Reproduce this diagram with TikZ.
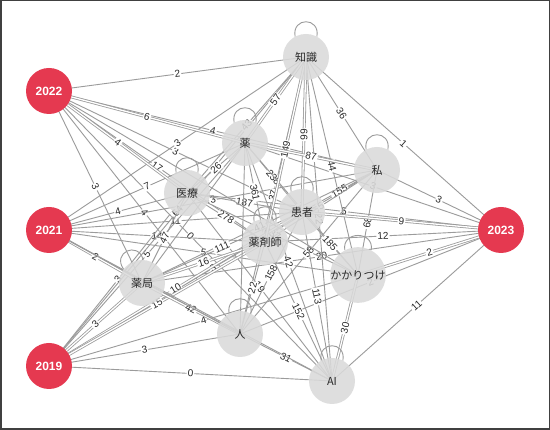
\documentclass[tikz,border=0pt]{standalone}
\usepackage{fontspec}
\setmainfont{Liberation Sans}
\newfontfamily\jpfont{Noto Sans CJK JP}
\usetikzlibrary{backgrounds}
\definecolor{yearred}{RGB}{229,57,80}
\definecolor{wordgray}{RGB}{218,218,218}
\definecolor{edgegray}{RGB}{155,155,155}
\definecolor{txtgray}{RGB}{40,40,40}
\tikzset{
  yearnode/.style={circle, fill=yearred, minimum size=46pt, inner sep=0pt, text=white, font=\bfseries\fontsize{12}{12}\selectfont},
  wordnode/.style={circle, fill=wordgray, fill opacity=0.88, text opacity=1, minimum size=46pt, inner sep=0pt, text=txtgray, font=\jpfont\fontsize{11}{11}\selectfont},
  link/.style={draw=edgegray, line width=0.9pt},
  dbl/.style={draw=edgegray, double=white, double distance=1.3pt, line width=0.8pt},
  lab/.style={fill=white, inner sep=1pt, sloped, font=\fontsize{10}{10}\selectfont, text=txtgray},
  selfloop/.style={draw=edgegray, line width=0.9pt},
}
\begin{document}
\begin{tikzpicture}[x=1pt,y=-1pt]
\useasboundingbox (0,0) rectangle (550,430);
% nodes
\node[yearnode] (Y22) at (49,91) {2022};
\node[yearnode] (Y21) at (49,230) {2021};
\node[yearnode] (Y19) at (49,366) {2019};
\node[yearnode] (Y23) at (501,230) {2023};
\node[wordnode] (K)  at (306,57)  {知識};
\node[wordnode] (Ku) at (245,143) {薬};
\node[wordnode] (W)  at (377,170) {私};
\node[wordnode] (I)  at (187,193) {医療};
\node[wordnode] (P)  at (302,212) {患者};
\node[wordnode] (Ph) at (265,242) {薬剤師};
\node[wordnode] (Ka) at (358,275) {かかりつけ};
\node[wordnode] (Y)  at (142,283) {薬局};
\node[wordnode] (H)  at (240,334) {人};
\node[wordnode] (A)  at (332,381) {AI};
\begin{scope}[on background layer]
  \draw[fill=white, draw=black!75, line width=1.5pt] (0.75,0.75) rectangle (549.25,429.25);
  % single labelled edges
  \foreach \a/\b/\l in {Y22/K/2, Y22/W/4, Y22/P/3, Y22/Ph/17, Y22/Y/3, Y22/H/4, Y22/A/0,
      Y21/K/3, Y21/Ku/7, Y21/I/4, Y21/W/3, Y21/P/11, Y21/Ph/14, Y21/Ka/5,
      Y19/I/3, Y19/Ku/5, Y19/W/3, Y19/Ka/4, Y19/H/3, Y19/A/0, Y19/K/64,
      Y23/K/1, Y23/W/3, Y23/I/5, Y23/Ph/12, Y23/A/11, Y23/Ku/3, Y23/H/2, Y23/Y/20,
      K/W/36, K/Ka/44, K/H/37, K/I/43, K/A/22,
      Ku/I/26, Ku/P/238, Ku/Ph/361, Ku/A/42, Ku/Ka/75,
      I/P/187, I/Ph/278, I/Y/47, I/A/19, I/Ka/637,
      W/P/155, W/Ph/5, W/Ka/68, W/H/58, W/Y/41,
      P/Ka/185, P/A/113, P/H/158, P/Y/111,
      Ph/A/152, Ph/H/22, H/A/31}
    {\draw[link] (\a.center) -- node[lab] {\l} (\b.center);}
  % double labelled edges
  \foreach \a/\b/\l in {Y22/Ku/6, Y22/I/4, Y21/Y/2, Y19/Y/3, Y19/P/10, Y19/Ph/15,
      K/Ku/57, K/Ph/149, K/P/99, Ku/W/87, Y23/P/9, Y23/Ka/2, Ka/A/30, Y/H/42, Y/Ph/16}
    {\draw[dbl] (\a.center) -- node[lab] {\l} (\b.center);}
  % edges whose labels are hidden
  \foreach \a/\b in {Y21/H, Y21/A, Y22/Ka, Ku/Y, Ku/H}
    {\draw[link] (\a.center) -- (\b.center);}
  % self loops
  \foreach \n in {K, Ku, W, I, P, Ph, Ka, H, A}
    {\draw[selfloop] (\n.118) .. controls +(100:20pt) and +(80:20pt) .. (\n.62);}
  \draw[selfloop] (Y.143) .. controls +(125:20pt) and +(105:20pt) .. (Y.87);
\end{scope}
\end{tikzpicture}
\end{document}
